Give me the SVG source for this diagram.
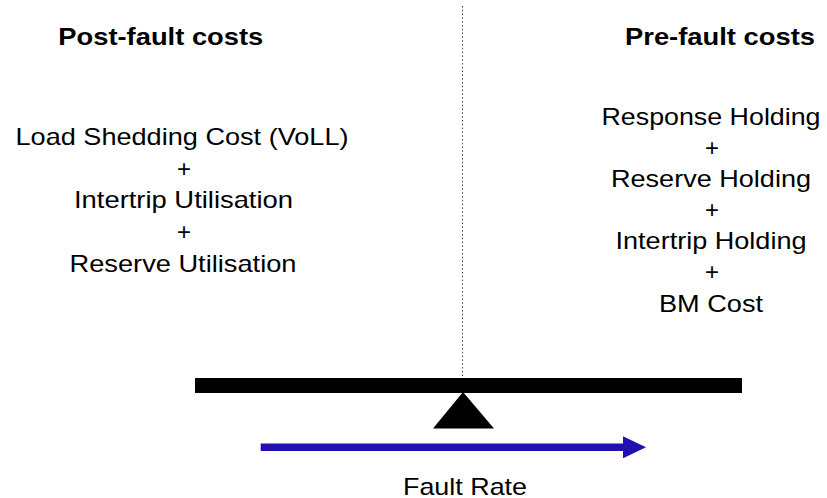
<svg xmlns="http://www.w3.org/2000/svg" width="827" height="498" viewBox="0 0 827 498">
  <defs>
    <style>
      text { font-family: "Liberation Sans", Arial, sans-serif; fill: #000; text-anchor: middle; }
      .hdr { font-size: 24px; font-weight: bold; }
      .item { font-size: 24px; }
      .beam { fill: #000; }
      .guide { stroke: #444; stroke-width: 1; stroke-dasharray: 1.5 2.3; fill: none; }
      .axis { stroke: #2211b0; stroke-width: 7.5; fill: none; }
    </style>
    <marker id="head" markerUnits="userSpaceOnUse" markerWidth="24" markerHeight="22" refX="0" refY="11" orient="auto">
      <path d="M0,0 L23,11 L0,22 Z" fill="#2211b0"/>
    </marker>
  </defs>
  <rect width="827" height="498" fill="#fff"/>

  <g id="connectors">
    <line id="divider" class="guide" x1="462.5" y1="6" x2="462.5" y2="378"/>
    <line id="fault-axis" class="axis" x1="260.7" y1="447.3" x2="623" y2="447.3" marker-end="url(#head)"/>
  </g>

  <g id="post-fault-header">
    <text class="hdr" x="160.8" y="44.5" textLength="205" lengthAdjust="spacingAndGlyphs">Post-fault costs</text>
  </g>

  <g id="pre-fault-header">
    <text class="hdr" x="720" y="44.5" textLength="190" lengthAdjust="spacingAndGlyphs">Pre-fault costs</text>
  </g>

  <g id="post-fault-costs">
    <text class="item" x="182" y="145" textLength="333" lengthAdjust="spacingAndGlyphs">Load Shedding Cost (VoLL)</text>
    <text class="item" x="184" y="176.5">+</text>
    <text class="item" x="183.5" y="208" textLength="219" lengthAdjust="spacingAndGlyphs">Intertrip Utilisation</text>
    <text class="item" x="184" y="240">+</text>
    <text class="item" x="183" y="271.5" textLength="227" lengthAdjust="spacingAndGlyphs">Reserve Utilisation</text>
  </g>

  <g id="pre-fault-costs">
    <text class="item" x="711" y="125" textLength="219" lengthAdjust="spacingAndGlyphs">Response Holding</text>
    <text class="item" x="712" y="156">+</text>
    <text class="item" x="711" y="187" textLength="200" lengthAdjust="spacingAndGlyphs">Reserve Holding</text>
    <text class="item" x="712" y="218">+</text>
    <text class="item" x="711" y="249" textLength="191" lengthAdjust="spacingAndGlyphs">Intertrip Holding</text>
    <text class="item" x="712" y="280">+</text>
    <text class="item" x="711" y="311.5" textLength="104" lengthAdjust="spacingAndGlyphs">BM Cost</text>
  </g>

  <g id="balance">
    <rect class="beam" x="195" y="378" width="547" height="15"/>
    <polygon class="beam" points="463,392 433,428.5 494,428.5"/>
  </g>

  <g id="fault-rate-label">
    <text class="item" x="465" y="494.5" textLength="124" lengthAdjust="spacingAndGlyphs">Fault Rate</text>
  </g>
</svg>
